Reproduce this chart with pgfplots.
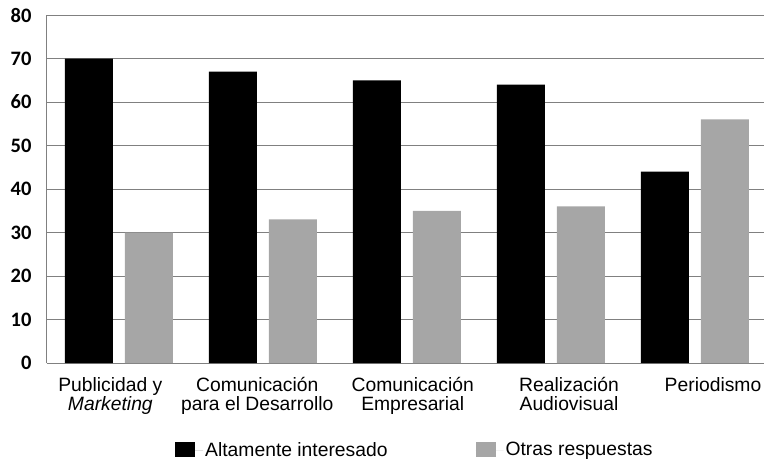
\documentclass[border=0pt]{standalone}
\usepackage{fontspec}
\setmainfont{Liberation Sans}
\newfontfamily\carlito{Carlito}
\usepackage{pgfplots}
\pgfplotsset{compat=1.18}
\definecolor{barblack}{HTML}{000000}
\definecolor{bargray}{HTML}{A6A6A6}
\definecolor{gridgray}{HTML}{808080}
\begin{document}
\begin{tikzpicture}
\begin{axis}[
  at={(0pt,0pt)}, anchor=south west,
  scale only axis,
  width=720pt, height=348pt,
  xmin=-0.5, xmax=4.5,
  ymin=0, ymax=80,
  ytick={0,10,...,80},
  xtick={-0.06,0.96,2.04,3.125,4.125},
  xticklabels={{Publicidad y\\\textit{Marketing}},{Comunicación\\para el Desarrollo},{Comunicación\\Empresarial},{Realización\\Audiovisual},{Periodismo}},
  xticklabel style={align=center, font=\fontsize{19.3}{18.5}\selectfont, yshift=-11pt},
  yticklabel style={font=\carlito\bfseries\fontsize{20.5}{20}\selectfont, xshift=-12pt},
  /pgf/number format/assume math mode=true,
  major tick length=0pt,
  axis lines=left,
  axis line style={-, draw=gridgray, line width=1pt},
  ymajorgrids,
  grid style={draw=gridgray, line width=1pt},
  ybar, bar width=48pt,
  legend columns=2,
  legend style={draw=none, at={(axis description cs:0.1778,-0.25)}, anchor=west, inner sep=0pt,
    font=\fontsize{19.3}{18.5}\selectfont,
    /tikz/every even column/.append style={column sep=86pt}},
  legend image code/.code={\fill[#1] (0pt,-7pt) rectangle (20pt,8pt); \path (0pt,0pt) -- (28pt,0pt);},
]
\addplot[fill=barblack, draw=none, bar shift=-30pt] coordinates {(0,70) (1,67) (2,65) (3,64) (4,44)};
\addplot[fill=bargray, draw=none, bar shift=30pt] coordinates {(0,30) (1,33) (2,35) (3,36) (4,56)};
\legend{Altamente interesado, Otras respuestas}
\end{axis}
\pgfresetboundingbox
\path[use as bounding box] (-47pt,-101pt) rectangle (717pt,363pt);
\end{tikzpicture}
\end{document}
